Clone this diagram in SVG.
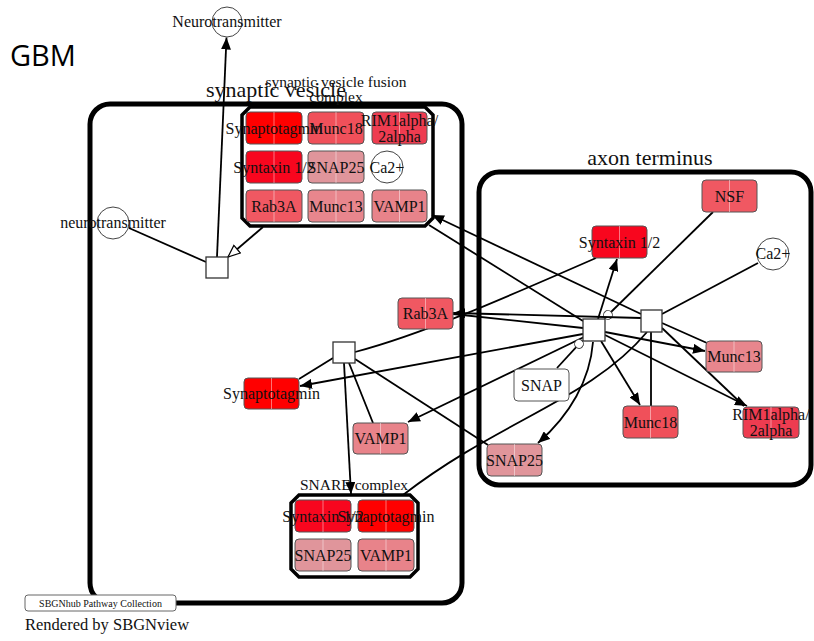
<svg xmlns="http://www.w3.org/2000/svg" width="814" height="641" viewBox="0 0 814 641">
  <style>
    text { font-family: "Liberation Serif", "Times New Roman", serif; fill: #111; }
    .lbl { font-size: 16px; text-anchor: middle; }
    .comp { fill: none; stroke: #000; stroke-width: 5; }
    .cplx { fill: #fff; stroke: #000; stroke-width: 3.5; }
    .mm { stroke: #555; stroke-width: 1; }
    .split { stroke: #fff; stroke-opacity: 0.45; stroke-width: 1; }
    .sm { fill: #fff; stroke: #444; stroke-width: 1; }
    .proc { fill: #fff; stroke: #333; stroke-width: 1.3; }
    .edge { fill: none; stroke: #000; stroke-width: 1.8; }
    .title { font-size: 22px; text-anchor: middle; }
  </style>
  <defs>
    <marker id="arrow" viewBox="0 0 12 10" refX="12" refY="5" markerWidth="12" markerHeight="10" markerUnits="userSpaceOnUse" orient="auto">
      <path d="M0,0 L12,5 L0,10 z" fill="#000"/>
    </marker>
    <marker id="stim" viewBox="-1 -1 15 13" refX="12" refY="5" markerWidth="15" markerHeight="13" markerUnits="userSpaceOnUse" orient="auto">
      <path d="M0,0 L12,5 L0,10 z" fill="#fff" stroke="#000" stroke-width="1.2"/>
    </marker>
    <marker id="cat" viewBox="0 0 10 10" refX="10" refY="5" markerWidth="10" markerHeight="10" markerUnits="userSpaceOnUse" orient="auto">
      <circle cx="5" cy="5" r="4.4" fill="#fff" stroke="#444" stroke-width="1"/>
    </marker>
  </defs>

  <rect width="814" height="641" fill="#fff"/>

  <!-- heading -->
  <text x="10" y="66" style="font-family:'Open Sans','Liberation Sans',sans-serif;font-size:29px;fill:#000">GBM</text>

  <!-- compartments -->
  <g id="synaptic-vesicle">
    <rect class="comp" x="90" y="104" width="372" height="499" rx="20"/>
    <text class="title" x="276" y="97">synaptic vesicle</text>
  </g>
  <g id="axon-terminus">
    <rect class="comp" x="479" y="172" width="332" height="313" rx="20"/>
    <text class="title" x="650" y="165">axon terminus</text>
  </g>

  <!-- complex outlines -->
  <g id="svf-complex">
    <path class="cplx" d="M250,107 H425 L433,115 V218 L425,226 H250 L242,218 V115 z"/>
    <text class="lbl" x="336" y="87" style="font-size:15.5px">synaptic vesicle fusion</text>
    <text class="lbl" x="336" y="102" style="font-size:15.5px">complex</text>
  </g>
  <g id="snare-complex">
    <path class="cplx" d="M299,495 H410 L418,503 V569 L410,577 H299 L291,569 V503 z"/>
    <text class="lbl" x="354" y="490" style="font-size:15.5px">SNARE complex</text>
  </g>

  <!-- connectors -->
  <g id="connectors">
    <!-- process A: neurotransmitter release -->
    <line class="edge" x1="217" y1="257" x2="226.5" y2="37.5" marker-end="url(#arrow)"/>
    <line class="edge" x1="129" y1="228" x2="206" y2="262"/>
    <line class="edge" x1="263" y1="227" x2="228" y2="257" marker-end="url(#stim)"/>

    <!-- process B: SNARE assembly -->
    <line class="edge" x1="333" y1="358" x2="299" y2="379"/>
    <path class="edge" d="M355,352 C420,335 500,300 596,258"/>
    <line class="edge" x1="349" y1="363" x2="373" y2="423"/>
    <line class="edge" x1="344" y1="363" x2="351" y2="494" marker-end="url(#arrow)"/>
    <line class="edge" x1="355" y1="359" x2="488" y2="445"/>

    <!-- process C: complex disassembly -->
    <line class="edge" x1="583" y1="321" x2="429" y2="225"/>
    <line class="edge" x1="583" y1="328" x2="453" y2="314"/>
    <line class="edge" x1="583" y1="334" x2="300" y2="386" marker-end="url(#arrow)"/>
    <line class="edge" x1="584" y1="337" x2="408" y2="422" marker-end="url(#arrow)"/>
    <path class="edge" d="M593,342 C590,380 570,415 538,443" marker-end="url(#arrow)"/>
    <line class="edge" x1="598" y1="319" x2="617" y2="259" marker-end="url(#arrow)"/>
    <line class="edge" x1="605" y1="332" x2="705" y2="351" marker-end="url(#arrow)"/>
    <line class="edge" x1="601" y1="341" x2="640" y2="405" marker-end="url(#arrow)"/>
    <line class="edge" x1="605" y1="335" x2="747" y2="406" marker-end="url(#arrow)"/>
    <line class="edge" x1="713" y1="212" x2="604.4" y2="318.5" marker-end="url(#cat)"/>
    <line class="edge" x1="557" y1="368" x2="582.4" y2="340.3" marker-end="url(#cat)"/>

    <!-- process D: complex formation -->
    <line class="edge" x1="641" y1="314" x2="432" y2="215" marker-end="url(#arrow)"/>
    <line class="edge" x1="641" y1="318" x2="453" y2="313" marker-end="url(#arrow)"/>
    <line class="edge" x1="758" y1="263" x2="662" y2="314"/>
    <line class="edge" x1="662" y1="323" x2="707" y2="343"/>
    <line class="edge" x1="651" y1="332" x2="651" y2="406"/>
    <line class="edge" x1="662" y1="328" x2="744" y2="406"/>
    <path class="edge" d="M647,332 C590,400 500,420 403,495"/>
  </g>

  <!-- process nodes -->
  <g id="process-a"><rect class="proc" x="206" y="257" width="22" height="21"/></g>
  <g id="process-b"><rect class="proc" x="333" y="342" width="22" height="21"/></g>
  <g id="process-c"><rect class="proc" x="583" y="319" width="22" height="22"/></g>
  <g id="process-d"><rect class="proc" x="641" y="310" width="21" height="22"/></g>

  <!-- simple chemicals -->
  <g id="neurotransmitter-out">
    <circle class="sm" cx="227" cy="22" r="15"/>
    <text class="lbl" x="227" y="27">Neurotransmitter</text>
  </g>
  <g id="neurotransmitter-in">
    <circle class="sm" cx="113" cy="223" r="16"/>
    <text class="lbl" x="113" y="228">neurotransmitter</text>
  </g>
  <g id="ca-axon">
    <circle class="sm" cx="773" cy="254" r="16"/>
    <text class="lbl" x="773" y="259">Ca2+</text>
  </g>

  <!-- members of the synaptic vesicle fusion complex -->
  <g id="svf-synaptotagmin">
    <rect class="mm" x="246" y="112" width="56" height="32" rx="4" fill="#ff0000"/>
    <line class="split" x1="274" y1="112" x2="274" y2="144"/>
  </g>
  <g id="svf-munc18">
    <rect class="mm" x="308" y="112" width="56" height="32" rx="4" fill="#f0505a"/>
    <line class="split" x1="336" y1="112" x2="336" y2="144"/>
  </g>
  <g id="svf-rim">
    <rect class="mm" x="372" y="112" width="55" height="32" rx="4" fill="#ee3c50"/>
    <line class="split" x1="399.5" y1="112" x2="399.5" y2="144"/>
  </g>
  <g id="svf-syntaxin">
    <rect class="mm" x="246" y="151" width="56" height="32" rx="4" fill="#f8061e"/>
    <line class="split" x1="274" y1="151" x2="274" y2="183"/>
  </g>
  <g id="svf-snap25">
    <rect class="mm" x="308" y="151" width="56" height="32" rx="4" fill="#e0959b"/>
    <line class="split" x1="336" y1="151" x2="336" y2="183"/>
  </g>
  <g id="svf-ca">
    <circle class="sm" cx="387" cy="167" r="16"/>
  </g>
  <g id="svf-rab3a">
    <rect class="mm" x="246" y="190" width="56" height="32" rx="4" fill="#f05862"/>
    <line class="split" x1="274" y1="190" x2="274" y2="222"/>
  </g>
  <g id="svf-munc13">
    <rect class="mm" x="308" y="190" width="56" height="32" rx="4" fill="#e8868d"/>
    <line class="split" x1="336" y1="190" x2="336" y2="222"/>
  </g>
  <g id="svf-vamp1">
    <rect class="mm" x="372" y="190" width="55" height="32" rx="4" fill="#e8838a"/>
    <line class="split" x1="399.5" y1="190" x2="399.5" y2="222"/>
  </g>
  <g id="svf-labels">
    <text class="lbl" x="274" y="133.5">Synaptotagmin</text>
    <text class="lbl" x="336" y="133.5">Munc18</text>
    <text class="lbl" x="399.5" y="125.5">RIM1alpha/</text>
    <text class="lbl" x="399.5" y="141.5">2alpha</text>
    <text class="lbl" x="274" y="172.5">Syntaxin 1/2</text>
    <text class="lbl" x="336" y="172.5">SNAP25</text>
    <text class="lbl" x="387" y="172.5">Ca2+</text>
    <text class="lbl" x="274" y="211.5">Rab3A</text>
    <text class="lbl" x="336" y="211.5">Munc13</text>
    <text class="lbl" x="399.5" y="211.5">VAMP1</text>
  </g>

  <!-- members of the SNARE complex -->
  <g id="snare-syntaxin">
    <rect class="mm" x="295" y="500" width="56" height="32" rx="4" fill="#f8061e"/>
    <line class="split" x1="323" y1="500" x2="323" y2="532"/>
  </g>
  <g id="snare-synaptotagmin">
    <rect class="mm" x="358" y="500" width="56" height="32" rx="4" fill="#ff0000"/>
    <line class="split" x1="386" y1="500" x2="386" y2="532"/>
  </g>
  <g id="snare-snap25">
    <rect class="mm" x="295" y="539" width="56" height="32" rx="4" fill="#e0959b"/>
    <line class="split" x1="323" y1="539" x2="323" y2="571"/>
  </g>
  <g id="snare-vamp1">
    <rect class="mm" x="358" y="539" width="56" height="32" rx="4" fill="#e8838a"/>
    <line class="split" x1="386" y1="539" x2="386" y2="571"/>
  </g>
  <g id="snare-labels">
    <text class="lbl" x="323" y="521.5">Syntaxin 1/2</text>
    <text class="lbl" x="386" y="521.5">Synaptotagmin</text>
    <text class="lbl" x="323" y="560.5">SNAP25</text>
    <text class="lbl" x="386" y="560.5">VAMP1</text>
  </g>

  <!-- free macromolecules -->
  <g id="synaptotagmin">
    <rect class="mm" x="244" y="378" width="55" height="31" rx="4" fill="#ff0000"/>
    <line class="split" x1="271.5" y1="378" x2="271.5" y2="409"/>
    <text class="lbl" x="271.5" y="399">Synaptotagmin</text>
  </g>
  <g id="vamp1">
    <rect class="mm" x="353" y="423" width="55" height="31" rx="4" fill="#e8838a"/>
    <line class="split" x1="380.5" y1="423" x2="380.5" y2="454"/>
    <text class="lbl" x="380.5" y="444">VAMP1</text>
  </g>
  <g id="rab3a">
    <rect class="mm" x="398" y="298" width="55" height="31" rx="4" fill="#f05862"/>
    <line class="split" x1="425.5" y1="298" x2="425.5" y2="329"/>
    <text class="lbl" x="425.5" y="319">Rab3A</text>
  </g>
  <g id="snap">
    <rect class="mm" x="514" y="369" width="55" height="32" rx="4" fill="#fff"/>
    <text class="lbl" x="541.5" y="390.5">SNAP</text>
  </g>
  <g id="snap25">
    <rect class="mm" x="487" y="444" width="55" height="32" rx="4" fill="#e0959b"/>
    <line class="split" x1="514.5" y1="444" x2="514.5" y2="476"/>
    <text class="lbl" x="514.5" y="465.5">SNAP25</text>
  </g>
  <g id="syntaxin">
    <rect class="mm" x="592" y="226" width="55" height="32" rx="4" fill="#f8061e"/>
    <line class="split" x1="619.5" y1="226" x2="619.5" y2="258"/>
    <text class="lbl" x="619.5" y="247.5">Syntaxin 1/2</text>
  </g>
  <g id="nsf">
    <rect class="mm" x="702" y="180" width="55" height="32" rx="4" fill="#f05862"/>
    <line class="split" x1="729.5" y1="180" x2="729.5" y2="212"/>
    <text class="lbl" x="729.5" y="201.5">NSF</text>
  </g>
  <g id="munc13">
    <rect class="mm" x="706" y="341" width="56" height="31" rx="4" fill="#e8868d"/>
    <line class="split" x1="734" y1="341" x2="734" y2="372"/>
    <text class="lbl" x="734" y="362">Munc13</text>
  </g>
  <g id="munc18">
    <rect class="mm" x="623" y="406" width="55" height="32" rx="4" fill="#f0505a"/>
    <line class="split" x1="650.5" y1="406" x2="650.5" y2="438"/>
    <text class="lbl" x="650.5" y="427.5">Munc18</text>
  </g>
  <g id="rim">
    <rect class="mm" x="743" y="407" width="56" height="31" rx="4" fill="#ee3c50"/>
    <line class="split" x1="771" y1="407" x2="771" y2="438"/>
    <text class="lbl" x="771" y="420">RIM1alpha/</text>
    <text class="lbl" x="771" y="436">2alpha</text>
  </g>

  <!-- footer -->
  <g id="footer">
    <rect x="25" y="595" width="151" height="16" rx="3" fill="#fff" stroke="#666" stroke-width="1"/>
    <text x="100.5" y="607" style="font-size:10px;text-anchor:middle">SBGNhub Pathway Collection</text>
    <text x="25" y="630" style="font-size:16.5px">Rendered by SBGNview</text>
  </g>
</svg>
